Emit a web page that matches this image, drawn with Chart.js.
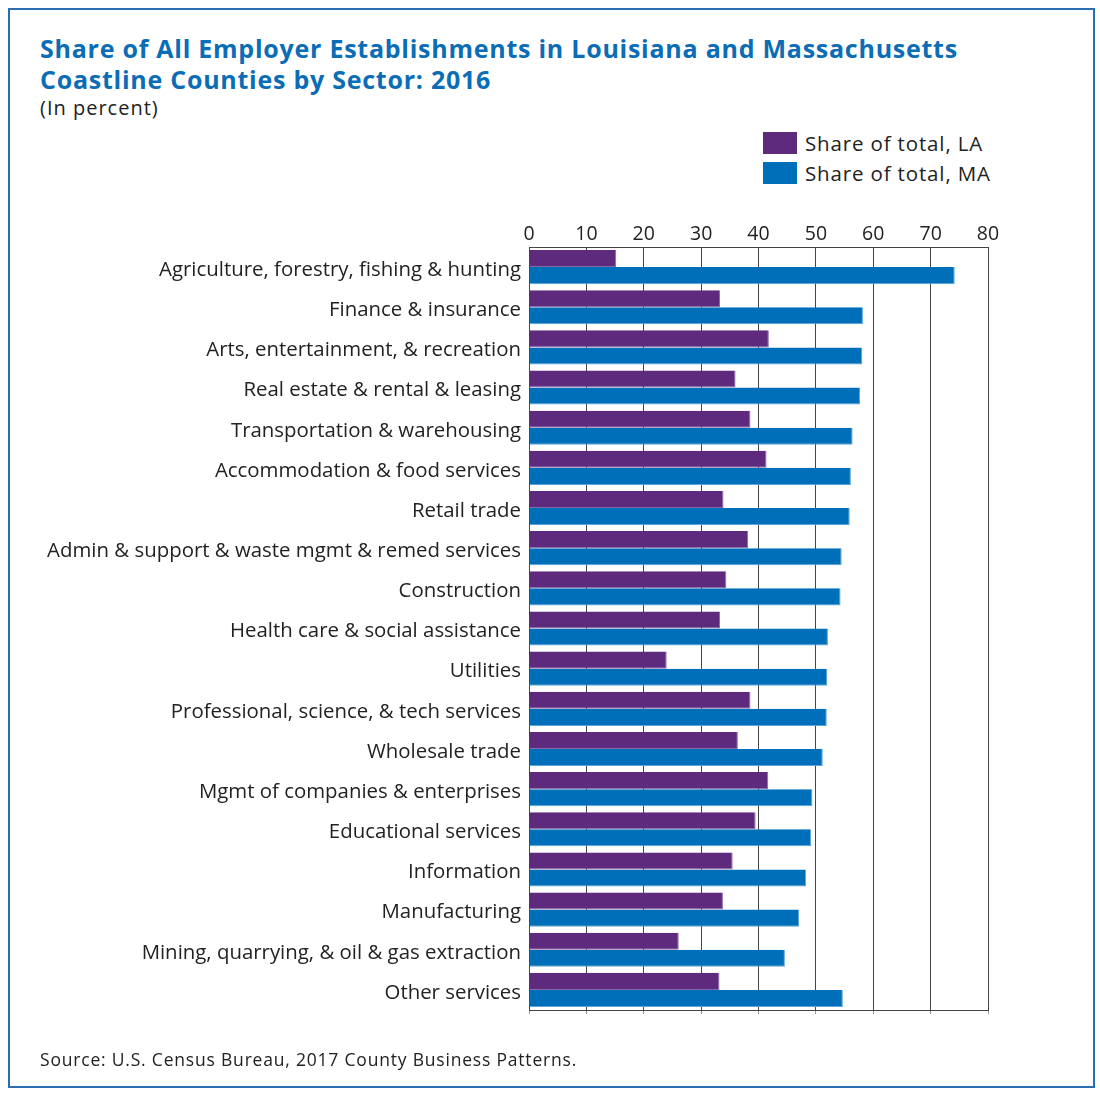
<!DOCTYPE html>
<html>
<head>
<meta charset="utf-8">
<script src="https://cdn.jsdelivr.net/npm/chart.js@4.4.1/dist/chart.umd.min.js"></script>
<style>
  body { margin: 0; background: #fff; font-family: "Open Sans", sans-serif; }
  #frame { position: absolute; left: 8px; top: 8px; width: 1083px; height: 1076px; border: 2px solid #2c6cb0; }
  #chart { position: absolute; left: 0; top: 0; }
  .title { position: absolute; left: 40px; top: 33px; color: #0a6db6; font-weight: 700; font-size: 25px; line-height: 31px; letter-spacing: 0.75px; }
  .sub { position: absolute; left: 40px; top: 94px; color: #222; font-size: 20px; letter-spacing: 1px; }
  .legend { position: absolute; left: 763px; top: 128px; font-size: 20.5px; color: #222; letter-spacing: 0.85px; }
  .legend div { display: flex; align-items: center; height: 30px; }
  .legend span { display: inline-block; width: 34px; height: 22px; margin-right: 8px; }
  .source { position: absolute; left: 40px; top: 1047px; color: #222; font-size: 17.5px; letter-spacing: 0.8px; }
</style>
</head>
<body>
<div id="frame"></div>
<div class="title">Share of All Employer Establishments in Louisiana and Massachusetts<br>Coastline Counties by Sector: 2016</div>
<div class="sub">(In percent)</div>
<div class="legend">
  <div><span style="background:#5e2a7e"></span>Share of total, LA</div>
  <div><span style="background:#006fba"></span>Share of total, MA</div>
</div>
<canvas id="chart" width="1100" height="1095"></canvas>
<div class="source">Source: U.S. Census Bureau, 2017 County Business Patterns.</div>
<script>
const sectors = [
  "Agriculture, forestry, fishing & hunting",
  "Finance & insurance",
  "Arts, entertainment, & recreation",
  "Real estate & rental & leasing",
  "Transportation & warehousing",
  "Accommodation & food services",
  "Retail trade",
  "Admin & support & waste mgmt & remed services",
  "Construction",
  "Health care & social assistance",
  "Utilities",
  "Professional, science, & tech services",
  "Wholesale trade",
  "Mgmt of companies & enterprises",
  "Educational services",
  "Information",
  "Manufacturing",
  "Mining, quarrying, & oil & gas extraction",
  "Other services"
];
const shareLA = [15.2, 33.3, 41.8, 36.0, 38.6, 41.4, 33.9, 38.2, 34.4, 33.3, 24.0, 38.6, 36.4, 41.7, 39.5, 35.5, 33.8, 26.1, 33.2];
const shareMA = [74.2, 58.2, 58.1, 57.7, 56.4, 56.1, 55.9, 54.5, 54.3, 52.1, 52.0, 51.9, 51.2, 49.4, 49.2, 48.3, 47.1, 44.6, 54.7];
const xTicks = [0, 10, 20, 30, 40, 50, 60, 70, 80];

const lineCol = "#444";

new Chart(document.getElementById("chart"), {
  type: "bar",
  data: {
    labels: sectors,
    datasets: [
      { label: "Share of total, LA", data: shareLA, backgroundColor: "#5e2a7e", borderColor: "#8a68a6", borderWidth: { right: 1, bottom: 1 }, borderSkipped: false },
      { label: "Share of total, MA", data: shareMA, backgroundColor: "#006fba", borderColor: "#5aa2dc", borderWidth: { right: 1, bottom: 1 }, borderSkipped: false }
    ]
  },
  options: {
    indexAxis: "y",
    responsive: false,
    animation: false,
    categoryPercentage: 0.85,
    barPercentage: 1.0,
    layout: { padding: { top: 200, bottom: 80, left: 0, right: 112 } },
    plugins: { legend: { display: false }, tooltip: { enabled: false } },
    scales: {
      x: {
        position: "top",
        min: 0, max: 80,
        afterBuildTicks: (s) => { s.ticks = xTicks.map(v => ({ value: v })); },
        afterFit: (s) => { s.height = 47; },
        grid: { color: lineCol, lineWidth: 1, drawTicks: false },
        border: { display: true, color: lineCol },
        ticks: { padding: 1, color: "#222", font: { family: "Open Sans", size: 19.5 } }
      },
      x2: {
        position: "bottom",
        min: 0, max: 80,
        afterBuildTicks: (s) => { s.ticks = xTicks.map(v => ({ value: v })); },
        afterFit: (s) => { s.height = 5; },
        grid: { drawOnChartArea: false, tickLength: 4, color: "#999" },
        border: { display: true, color: lineCol },
        ticks: { display: false }
      },
      y: {
        afterFit: (s) => { s.width = 529; },
        grid: { display: false, drawTicks: false },
        border: { display: true, color: lineCol },
        ticks: { padding: 8, labelOffset: 3, color: "#222", font: { family: "Open Sans", size: 20.4 } }
      }
    }
  }
});
</script>
</body>
</html>
